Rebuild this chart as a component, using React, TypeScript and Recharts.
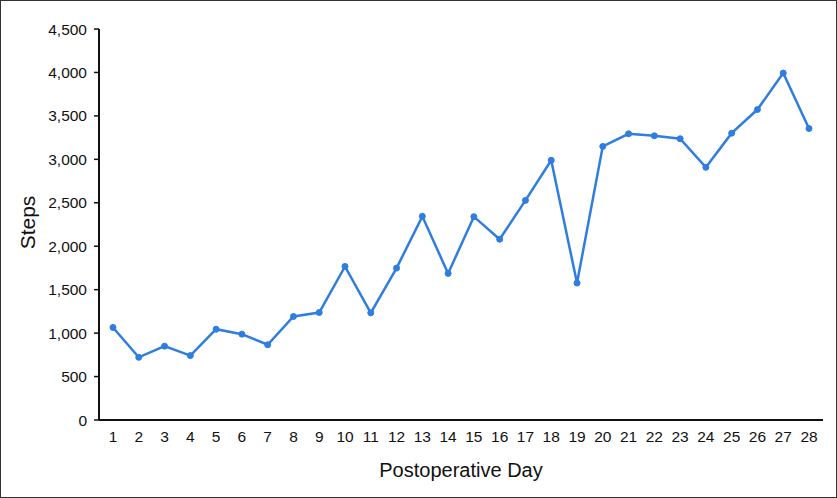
import { Label, Line, LineChart, XAxis, YAxis } from 'recharts'

const days = [
  1, 2, 3, 4, 5, 6, 7, 8, 9, 10, 11, 12, 13, 14, 15, 16, 17, 18, 19, 20, 21, 22, 23, 24, 25, 26, 27, 28,
]
const steps = [
  1065, 721, 850, 741, 1045, 988, 866, 1191, 1237, 1767, 1233, 1748, 2344, 1687, 2340, 2080, 2527,
  2989, 1576, 3149, 3294, 3271, 3237, 2908, 3301, 3573, 3993, 3355,
]
const yTicks = [0, 500, 1000, 1500, 2000, 2500, 3000, 3500, 4000, 4500]

const data = days.map((day, i) => ({ day, steps: steps[i] }))

const FONT = '"Liberation Sans", Arial, sans-serif'
const BLUE = '#2f7de1'

function YTitle(props: any) {
  const vb = props.viewBox
  const cx = vb.x + 26
  const cy = vb.y + vb.height / 2 - 2
  return (
    <text
      x={cx}
      y={cy}
      transform={`rotate(-90 ${cx} ${cy})`}
      textAnchor="middle"
      dominantBaseline="central"
      fontFamily={FONT}
      fontSize={21}
      fill="#111"
    >
      Steps
    </text>
  )
}

export default function App() {
  return (
    <div
      style={{
        position: 'fixed',
        left: 0,
        top: 0,
        width: 837,
        height: 498,
        boxSizing: 'border-box',
        border: '1.5px solid #333',
        background: '#fff',
      }}
    >
      <LineChart
        width={834}
        height={495}
        data={data}
        margin={{ top: 28, right: 12, left: 0, bottom: 0 }}
        style={{ fontFamily: FONT }}
      >
        <XAxis
          dataKey="day"
          height={76}
          padding={{ left: 14, right: 14 }}
          axisLine={{ stroke: '#111', strokeWidth: 2 }}
          tickLine={false}
          tickMargin={5}
          tick={{ fill: '#111', fontSize: 15.5 }}
          interval={0}
        >
          <Label
            value="Postoperative Day"
            position="insideBottom"
            offset={19}
            style={{ fontSize: 20, fill: '#111' }}
          />
        </XAxis>
        <YAxis
          width={98}
          domain={[0, 4500]}
          ticks={yTicks}
          axisLine={{ stroke: '#111', strokeWidth: 2 }}
          tickLine={{ stroke: '#111', strokeWidth: 1.5 }}
          tickSize={5}
          tickMargin={7}
          tick={{ fill: '#111', fontSize: 15.5 }}
          tickFormatter={(v: number) => v.toLocaleString('en-US')}
        >
          <Label content={<YTitle />} />
        </YAxis>
        <Line
          type="linear"
          dataKey="steps"
          stroke={BLUE}
          strokeWidth={2.5}
          dot={{ r: 3, fill: BLUE, stroke: BLUE, strokeWidth: 1 }}
          activeDot={false}
          isAnimationActive={false}
        />
      </LineChart>
    </div>
  )
}
